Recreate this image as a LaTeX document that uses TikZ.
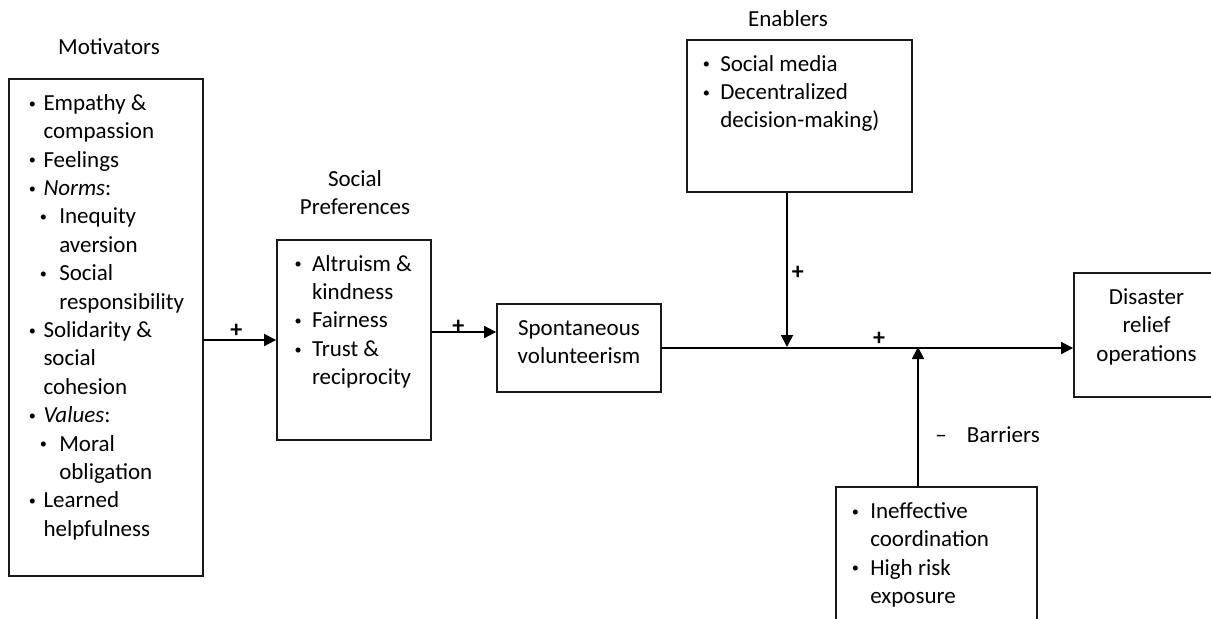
\documentclass[tikz,border=0pt]{standalone}
\usepackage{fontspec}
\setmainfont{Carlito}
\usetikzlibrary{arrows.meta, positioning, calc}
\tikzstyle{box}=[draw=black!90, line width=0.9pt, inner sep=0pt]
\tikzstyle{txt}=[inner sep=0pt, font=\fontsize{11.5}{14.2}\selectfont, align=flush left]
\tikzstyle{sgn}=[inner sep=1pt, font=\fontsize{12}{14}\selectfont\bfseries]
\tikzstyle{arr}=[line width=0.9pt, -{Triangle[length=6pt, width=6pt]}]

\newcommand{\dotmark}{\makebox[5.7pt][c]{\raisebox{1.1pt}{\scalebox{0.62}{\textbullet}}}}
\newcommand{\bitem}[1][9.8pt]{\makebox[#1][l]{\dotmark}}
\newcommand{\bcont}[1][9.8pt]{\hspace*{#1}}
\newcommand{\sitem}{\hspace*{5.5pt}\bitem[10.8pt]}
\newcommand{\scont}{\hspace*{16.3pt}}

\begin{document}
\begin{tikzpicture}[x=0.5pt, y=-0.5pt]
				\useasboundingbox (0,0) rectangle (1211,618);
				\clip (0,0) rectangle (1211,618);

				% Boxes
				\node[box, minimum width=97pt, minimum height=248.5pt] (mot) at (106,327.5) {};
				\node[box, minimum width=77pt, minimum height=100pt] (pref) at (354,340) {};
				\node[box, minimum width=82pt, minimum height=44pt] (spont) at (579,348) {};
				\node[box, minimum width=112.5pt, minimum height=76pt] (enab) at (799.5,116) {};
				\node[box, minimum width=78pt, minimum height=62pt] (disas) at (1152,335) {};
				\node[box, minimum width=100.5pt, minimum height=106.5pt] (barr) at (936.5,593.5) {};

				% Headings
				\node[txt, anchor=base] (motlbl) at (109,54) {Motivators};
				\node[txt, anchor=north, text width=90pt, align=center] (preflbl) at (355,166.1) {\strut Social\\Preferences};
				\node[txt, anchor=base] (enablbl) at (788,26) {Enablers};
				\node[txt, anchor=base west] (barrlbl) at (935,442) {–\hspace{10pt}Barriers};

				% Box contents
				\node[txt, anchor=north west, text width=85pt] (mottxt) at (26.3,90.1) {%
					\strut\bitem[8.4pt]Empathy \&\\
					\bcont[8.4pt]compassion\\
					\bitem[8.4pt]Feelings\\
					\bitem[8.4pt]\textit{Norms}:\\
					\sitem Inequity\\
					\scont aversion\\
					\sitem Social\\
					\scont responsibility\\
					\bitem[8.4pt]Solidarity \&\\
					\bcont[8.4pt]social\\
					\bcont[8.4pt]cohesion\\
					\bitem[8.4pt]\textit{Values}:\\
					\sitem Moral\\
					\scont obligation\\
					\bitem[8.4pt]Learned\\
					\bcont[8.4pt]helpfulness};
				\node[txt, anchor=north west, text width=68pt] (preftxt) at (292,250.8) {%
					\strut\bitem Altruism \&\\
					\bcont kindness\\
					\bitem Fairness\\
					\bitem Trust \&\\
					\bcont reciprocity};
				\node[txt, anchor=north, text width=80pt, align=center] (sponttxt) at (579,315) {\strut Spontaneous\\volunteerism};
				\node[txt, anchor=north west, text width=105pt] (enabtxt) at (700.3,50.8) {%
					\strut\bitem Social media\\
					\bitem Decentralized\\
					\bcont decision-making)};
				\node[txt, anchor=north, text width=70pt, align=center] (disastxt) at (1146.5,284.1) {\strut Disaster\\relief\\operations};
				\node[txt, anchor=north west, text width=90pt] (barrtxt) at (849.3,498) {%
					\strut\bitem[10.3pt]Ineffective\\
					\bcont[10.3pt]coordination\\
					\bitem[10.3pt]High risk\\
					\bcont[10.3pt]exposure};

				% Arrows
				\coordinate (j1) at (787,347);
				\coordinate (j2) at (918,347);
				\draw[arr] (mot.east |- pref.west) -- node[sgn, pos=0.45, above] (s1) {+} (pref.west);
				\draw[arr] ([yshift=4pt]pref.east) -- node[sgn, pos=0.41, above=-2pt] (s2) {+} ([yshift=8pt]spont.west);
				\draw[arr] (spont.east) -- node[sgn, pos=0.528, above] (s4) {+} (spont.east -| disas.west);
				\draw[arr] (enab.south -| j1) -- node[sgn, pos=0.52, right=1pt] (s3) {+} (j1);
				\draw[arr] (barr.north -| j2) -- (j2);
			\end{tikzpicture}
\end{document}
